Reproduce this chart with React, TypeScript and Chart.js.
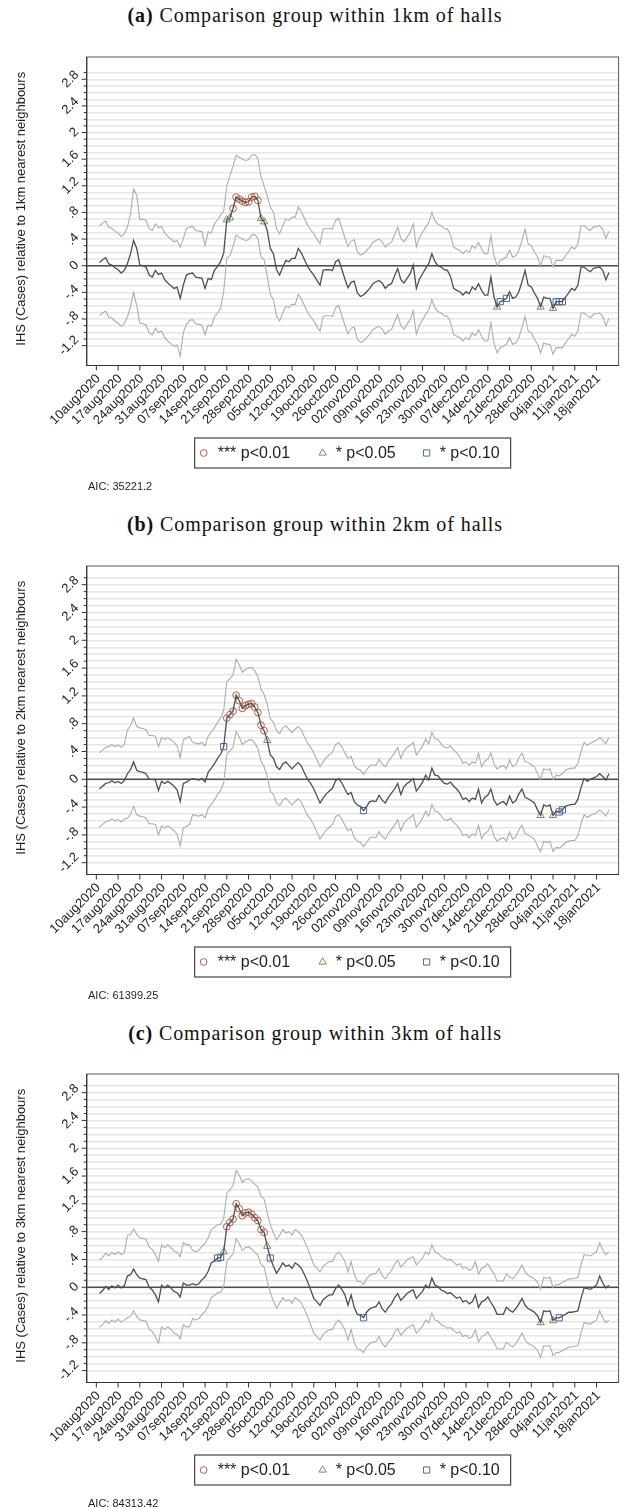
import React, { useEffect, useRef } from "react";
import { Chart, registerables } from "chart.js";

Chart.register(...registerables);

// Daily series start on 11aug2020; x values are days counted from 10aug2020.
const FIRST_DAY = 1;

const tickDays = [0, 7, 14, 21, 28, 35, 42, 49, 56, 63, 70, 77, 84, 91, 98, 105, 112, 119, 126, 133, 140, 147, 154, 161];
const tickLabels = [
  "10aug2020", "17aug2020", "24aug2020", "31aug2020", "07sep2020", "14sep2020", "21sep2020", "28sep2020",
  "05oct2020", "12oct2020", "19oct2020", "26oct2020", "02nov2020", "09nov2020", "16nov2020", "23nov2020",
  "30nov2020", "07dec2020", "14dec2020", "21dec2020", "28dec2020", "04jan2021", "11jan2021", "18jan2021",
];

const yLabelValues = [-1.2, -0.8, -0.4, 0, 0.4, 0.8, 1.2, 1.6, 2, 2.4, 2.8];
const yLabelTexts = ["-1.2", "-.8", "-.4", "0", ".4", ".8", "1.2", "1.6", "2", "2.4", "2.8"];

const legendLabels = ["*** p<0.01", "* p<0.05", "* p<0.10"];

// ---------- (a) within 1km ----------
const est1km = [
  0.05, 0.09, 0.12, 0.03, 0.01, -0.03, -0.06, -0.11, -0.07, 0.03,
  0.18, 0.38, 0.26, 0.01, 0.0, -0.02, -0.14, -0.17, -0.07, -0.13,
  -0.11, -0.21, -0.26, -0.3, -0.34, -0.32, -0.49, -0.29, -0.14, -0.12,
  -0.11, -0.17, -0.18, -0.19, -0.34, -0.19, -0.21, -0.07, -0.01, 0.06,
  0.19, 0.69, 0.72, 0.86, 1.03, 1.0, 0.97, 0.95, 0.96, 1.03,
  1.04, 0.98, 0.71, 0.66, 0.53, 0.26, 0.18, -0.06, -0.14, -0.02,
  0.08, 0.06, 0.11, 0.11, 0.26, 0.19, 0.09, -0.01, -0.08, -0.14,
  -0.22, -0.29, -0.07, -0.06, -0.06, -0.07, 0.06, 0.09, -0.05, -0.2,
  -0.33, -0.25, -0.23, -0.41, -0.46, -0.44, -0.39, -0.34, -0.27, -0.24,
  -0.22, -0.26, -0.34, -0.29, -0.27, -0.15, -0.04, -0.21, -0.26, -0.19,
  -0.12, 0.01, -0.34, -0.2, -0.12, -0.04, 0.03, 0.18, 0.06, 0.0,
  -0.02, -0.06, -0.07, -0.16, -0.34, -0.37, -0.39, -0.44, -0.39, -0.42,
  -0.32, -0.36, -0.27, -0.37, -0.44, -0.44, -0.17, -0.47, -0.62, -0.54,
  -0.52, -0.49, -0.39, -0.49, -0.47, -0.39, -0.24, -0.07, -0.29, -0.32,
  -0.41, -0.49, -0.62, -0.47, -0.49, -0.49, -0.64, -0.54, -0.54, -0.54,
  -0.47, -0.41, -0.34, -0.37, -0.29, -0.02, -0.02, -0.06, -0.09, -0.04,
  -0.03, -0.02, -0.07, -0.21, -0.1,
];
const upper1km = [
  0.6, 0.64, 0.67, 0.58, 0.56, 0.52, 0.49, 0.44, 0.48, 0.58,
  0.78, 1.15, 1.06, 0.69, 0.7, 0.68, 0.56, 0.53, 0.63, 0.57,
  0.59, 0.49, 0.44, 0.4, 0.36, 0.38, 0.28, 0.41, 0.56, 0.58,
  0.59, 0.53, 0.52, 0.51, 0.3, 0.51, 0.49, 0.63, 0.69, 0.76,
  0.82, 1.2, 1.35, 1.49, 1.66, 1.63, 1.6, 1.58, 1.59, 1.66,
  1.67, 1.61, 1.34, 1.2, 1.05, 0.88, 0.8, 0.56, 0.48, 0.6,
  0.7, 0.68, 0.73, 0.73, 0.88, 0.81, 0.71, 0.61, 0.54, 0.48,
  0.4, 0.33, 0.55, 0.56, 0.56, 0.55, 0.68, 0.71, 0.57, 0.42,
  0.29, 0.37, 0.39, 0.21, 0.16, 0.18, 0.23, 0.28, 0.35, 0.38,
  0.4, 0.36, 0.28, 0.33, 0.35, 0.47, 0.58, 0.41, 0.36, 0.43,
  0.5, 0.63, 0.28, 0.42, 0.5, 0.58, 0.65, 0.8, 0.68, 0.62,
  0.6, 0.56, 0.55, 0.46, 0.28, 0.25, 0.23, 0.18, 0.23, 0.2,
  0.3, 0.26, 0.35, 0.25, 0.18, 0.18, 0.45, 0.15, 0.0, 0.08,
  0.1, 0.13, 0.23, 0.13, 0.15, 0.23, 0.38, 0.55, 0.33, 0.3,
  0.21, 0.13, 0.0, 0.15, 0.13, 0.13, -0.02, 0.08, 0.08, 0.08,
  0.15, 0.21, 0.28, 0.25, 0.33, 0.6, 0.6, 0.56, 0.53, 0.58,
  0.59, 0.6, 0.55, 0.41, 0.52,
];
const lower1km = [
  -0.75, -0.71, -0.68, -0.77, -0.79, -0.83, -0.86, -0.91, -0.87, -0.77,
  -0.62, -0.4, -0.6, -0.86, -0.87, -0.89, -1.01, -1.04, -0.94, -1.0,
  -0.98, -1.08, -1.13, -1.17, -1.21, -1.19, -1.36, -1.0, -0.88, -0.82,
  -0.81, -0.87, -0.88, -0.89, -1.04, -0.89, -0.91, -0.77, -0.71, -0.64,
  -0.38, 0.12, 0.15, 0.29, 0.46, 0.43, 0.4, 0.38, 0.39, 0.46,
  0.47, 0.41, 0.14, 0.09, -0.16, -0.43, -0.51, -0.75, -0.83, -0.71,
  -0.61, -0.63, -0.58, -0.58, -0.43, -0.5, -0.6, -0.7, -0.77, -0.83,
  -0.91, -0.98, -0.76, -0.75, -0.75, -0.76, -0.63, -0.6, -0.74, -0.89,
  -1.02, -0.94, -0.92, -1.1, -1.15, -1.13, -1.08, -1.03, -0.96, -0.93,
  -0.91, -0.95, -1.03, -0.98, -0.96, -0.84, -0.73, -0.9, -0.95, -0.88,
  -0.81, -0.68, -1.03, -0.89, -0.81, -0.73, -0.66, -0.51, -0.63, -0.69,
  -0.71, -0.75, -0.76, -0.85, -1.03, -1.06, -1.08, -1.13, -1.08, -1.11,
  -1.01, -1.05, -0.96, -1.06, -1.13, -1.13, -0.86, -1.16, -1.31, -1.23,
  -1.21, -1.18, -1.08, -1.18, -1.16, -1.08, -0.93, -0.76, -0.98, -1.01,
  -1.1, -1.18, -1.31, -1.16, -1.18, -1.18, -1.33, -1.23, -1.23, -1.23,
  -1.16, -1.1, -1.03, -1.06, -0.98, -0.71, -0.71, -0.75, -0.78, -0.73,
  -0.72, -0.71, -0.76, -0.9, -0.79,
];
const sig01Days1km = [44, 45, 46, 47, 48, 49, 50, 51, 52];
const sig05Days1km = [42, 43, 53, 54, 129, 143, 147];
const sig10Days1km = [130, 132, 148, 149, 150];

// ---------- (b) within 2km ----------
const est2km = [
  -0.14, -0.1, -0.06, -0.05, -0.02, -0.05, -0.03, -0.06, -0.02, 0.08,
  0.14, 0.25, 0.13, 0.11, 0.1, 0.08, 0.0, 0.0, -0.01, -0.16,
  -0.03, -0.06, -0.03, -0.06, -0.1, -0.15, -0.32, -0.06, -0.04, -0.01,
  0.01, 0.0, -0.01, 0.01, -0.04, 0.1, 0.16, 0.22, 0.3, 0.36,
  0.47, 0.88, 0.93, 0.98, 1.21, 1.13, 1.02, 1.06, 1.08, 1.09,
  1.04, 0.96, 0.78, 0.7, 0.56, 0.35, 0.3, 0.18, 0.14, 0.22,
  0.25, 0.2, 0.15, 0.2, 0.24, 0.19, 0.09, 0.0, -0.06, -0.14,
  -0.24, -0.34, -0.27, -0.21, -0.17, -0.13, -0.02, 0.01, -0.05, -0.14,
  -0.22, -0.19, -0.32, -0.37, -0.39, -0.45, -0.39, -0.32, -0.31, -0.32,
  -0.23, -0.3, -0.34, -0.26, -0.2, -0.14, -0.06, -0.22, -0.11, -0.06,
  -0.03, 0.01, -0.17, -0.11, -0.04, 0.06, -0.01, 0.16, 0.06, 0.05,
  -0.01, -0.06, -0.07, -0.04, -0.1, -0.14, -0.2, -0.29, -0.27, -0.32,
  -0.27, -0.29, -0.14, -0.34, -0.26, -0.23, -0.14, -0.3, -0.37, -0.34,
  -0.32, -0.37, -0.24, -0.34, -0.31, -0.21, -0.14, -0.26, -0.28, -0.31,
  -0.34, -0.44, -0.52, -0.37, -0.39, -0.37, -0.52, -0.46, -0.47, -0.44,
  -0.39, -0.37, -0.36, -0.36, -0.29, -0.12, 0.01, -0.03, 0.0, 0.02,
  0.04, 0.08, 0.04, -0.01, 0.08,
];
const upper2km = [
  0.38, 0.42, 0.46, 0.47, 0.5, 0.47, 0.49, 0.46, 0.5, 0.71,
  0.77, 0.88, 0.76, 0.74, 0.73, 0.71, 0.63, 0.63, 0.62, 0.47,
  0.6, 0.57, 0.6, 0.57, 0.53, 0.48, 0.31, 0.57, 0.59, 0.62,
  0.53, 0.52, 0.51, 0.53, 0.48, 0.62, 0.68, 0.74, 0.82, 0.88,
  0.99, 1.4, 1.45, 1.5, 1.73, 1.65, 1.54, 1.58, 1.6, 1.61,
  1.56, 1.48, 1.3, 1.22, 1.08, 0.87, 0.82, 0.7, 0.66, 0.74,
  0.77, 0.72, 0.67, 0.72, 0.76, 0.71, 0.61, 0.52, 0.46, 0.38,
  0.28, 0.18, 0.25, 0.31, 0.35, 0.39, 0.5, 0.53, 0.47, 0.38,
  0.3, 0.33, 0.2, 0.15, 0.13, 0.07, 0.13, 0.2, 0.21, 0.2,
  0.29, 0.22, 0.18, 0.26, 0.32, 0.38, 0.46, 0.3, 0.41, 0.46,
  0.49, 0.53, 0.35, 0.41, 0.48, 0.58, 0.51, 0.68, 0.58, 0.57,
  0.51, 0.46, 0.45, 0.48, 0.42, 0.38, 0.32, 0.23, 0.25, 0.2,
  0.25, 0.23, 0.38, 0.18, 0.26, 0.29, 0.38, 0.22, 0.15, 0.18,
  0.2, 0.15, 0.28, 0.18, 0.21, 0.31, 0.38, 0.26, 0.24, 0.21,
  0.18, 0.08, 0.0, 0.15, 0.13, 0.15, 0.0, 0.06, 0.05, 0.08,
  0.13, 0.15, 0.16, 0.16, 0.23, 0.4, 0.53, 0.49, 0.52, 0.54,
  0.56, 0.6, 0.56, 0.51, 0.6,
];
const lower2km = [
  -0.69, -0.65, -0.61, -0.6, -0.57, -0.6, -0.58, -0.61, -0.57, -0.56,
  -0.5, -0.39, -0.51, -0.53, -0.54, -0.56, -0.64, -0.64, -0.65, -0.8,
  -0.67, -0.7, -0.67, -0.7, -0.74, -0.79, -0.96, -0.7, -0.68, -0.65,
  -0.51, -0.52, -0.53, -0.51, -0.56, -0.42, -0.36, -0.3, -0.22, -0.16,
  -0.05, 0.36, 0.41, 0.46, 0.69, 0.61, 0.5, 0.54, 0.56, 0.57,
  0.52, 0.44, 0.26, 0.18, 0.04, -0.17, -0.22, -0.34, -0.38, -0.3,
  -0.27, -0.32, -0.37, -0.32, -0.28, -0.33, -0.43, -0.52, -0.58, -0.66,
  -0.76, -0.86, -0.79, -0.73, -0.69, -0.65, -0.54, -0.51, -0.57, -0.66,
  -0.74, -0.71, -0.84, -0.89, -0.91, -0.97, -0.91, -0.84, -0.83, -0.84,
  -0.75, -0.82, -0.86, -0.78, -0.72, -0.66, -0.58, -0.74, -0.63, -0.58,
  -0.55, -0.51, -0.69, -0.63, -0.56, -0.46, -0.53, -0.36, -0.46, -0.47,
  -0.53, -0.58, -0.59, -0.56, -0.62, -0.66, -0.72, -0.81, -0.79, -0.84,
  -0.79, -0.81, -0.66, -0.86, -0.78, -0.75, -0.66, -0.82, -0.89, -0.86,
  -0.84, -0.89, -0.76, -0.86, -0.83, -0.73, -0.66, -0.78, -0.8, -0.83,
  -0.86, -0.96, -1.04, -0.89, -0.91, -0.89, -1.04, -0.98, -0.99, -0.96,
  -0.91, -0.89, -0.88, -0.88, -0.81, -0.64, -0.51, -0.55, -0.52, -0.5,
  -0.48, -0.44, -0.48, -0.53, -0.44,
];
const sig01Days2km = [42, 43, 44, 45, 46, 47, 48, 49, 50, 51, 52, 53, 54];
const sig05Days2km = [55, 143, 147];
const sig10Days2km = [41, 86, 149, 150];

// ---------- (c) within 3km ----------
const est3km = [
  -0.09, -0.05, 0.01, -0.03, 0.02, -0.01, 0.03, -0.01, 0.02, 0.16,
  0.18, 0.26, 0.18, 0.13, 0.12, 0.11, 0.0, -0.04, -0.11, -0.21,
  0.03, -0.01, 0.03, -0.01, -0.06, -0.08, -0.14, 0.06, 0.03, 0.03,
  0.05, 0.03, 0.05, 0.11, 0.15, 0.23, 0.35, 0.38, 0.42, 0.43,
  0.51, 0.87, 0.93, 0.98, 1.2, 1.13, 1.03, 1.07, 1.08, 1.05,
  1.0, 0.96, 0.83, 0.79, 0.59, 0.42, 0.3, 0.2, 0.27, 0.35,
  0.3, 0.32, 0.27, 0.35, 0.32, 0.27, 0.18, 0.08, -0.04, -0.16,
  -0.21, -0.26, -0.18, -0.14, -0.11, -0.11, -0.02, 0.03, -0.03, -0.11,
  -0.26, -0.11, -0.29, -0.39, -0.4, -0.44, -0.36, -0.31, -0.29, -0.28,
  -0.21, -0.31, -0.36, -0.29, -0.24, -0.15, -0.09, -0.19, -0.14, -0.09,
  -0.06, -0.04, -0.16, -0.11, -0.06, 0.03, -0.01, 0.13, 0.03, 0.01,
  -0.04, -0.06, -0.09, -0.08, -0.12, -0.16, -0.14, -0.21, -0.19, -0.24,
  -0.21, -0.11, -0.29, -0.21, -0.19, -0.14, -0.22, -0.29, -0.39, -0.39,
  -0.39, -0.29, -0.33, -0.36, -0.31, -0.24, -0.16, -0.26, -0.31, -0.33,
  -0.36, -0.41, -0.51, -0.34, -0.35, -0.34, -0.48, -0.44, -0.44, -0.41,
  -0.39, -0.36, -0.36, -0.35, -0.34, -0.16, -0.01, -0.02, -0.03, 0.0,
  0.03, 0.16, 0.06, -0.01, 0.03,
];
const upper3km = [
  0.39, 0.43, 0.49, 0.45, 0.5, 0.47, 0.51, 0.47, 0.5, 0.74,
  0.76, 0.84, 0.76, 0.71, 0.7, 0.69, 0.58, 0.54, 0.47, 0.37,
  0.61, 0.57, 0.61, 0.57, 0.52, 0.5, 0.44, 0.64, 0.61, 0.61,
  0.53, 0.51, 0.53, 0.59, 0.63, 0.71, 0.83, 0.86, 0.9, 0.91,
  0.99, 1.35, 1.41, 1.46, 1.68, 1.61, 1.51, 1.55, 1.56, 1.53,
  1.48, 1.44, 1.31, 1.27, 1.07, 0.9, 0.78, 0.68, 0.75, 0.83,
  0.78, 0.8, 0.75, 0.83, 0.8, 0.75, 0.66, 0.56, 0.44, 0.32,
  0.27, 0.22, 0.3, 0.34, 0.37, 0.37, 0.46, 0.51, 0.45, 0.37,
  0.22, 0.37, 0.19, 0.09, 0.08, 0.04, 0.12, 0.17, 0.19, 0.2,
  0.27, 0.17, 0.12, 0.19, 0.24, 0.33, 0.39, 0.29, 0.34, 0.39,
  0.42, 0.44, 0.32, 0.37, 0.42, 0.51, 0.47, 0.61, 0.51, 0.49,
  0.44, 0.42, 0.39, 0.4, 0.36, 0.32, 0.34, 0.27, 0.29, 0.24,
  0.27, 0.37, 0.19, 0.27, 0.29, 0.34, 0.26, 0.19, 0.09, 0.09,
  0.09, 0.19, 0.15, 0.12, 0.17, 0.24, 0.32, 0.22, 0.17, 0.15,
  0.12, 0.07, -0.03, 0.14, 0.13, 0.14, 0.0, 0.04, 0.04, 0.07,
  0.09, 0.12, 0.12, 0.13, 0.14, 0.32, 0.47, 0.46, 0.45, 0.48,
  0.51, 0.64, 0.54, 0.47, 0.51,
];
const lower3km = [
  -0.58, -0.54, -0.48, -0.52, -0.47, -0.5, -0.46, -0.5, -0.47, -0.44,
  -0.42, -0.34, -0.42, -0.47, -0.48, -0.49, -0.6, -0.64, -0.71, -0.81,
  -0.57, -0.61, -0.57, -0.61, -0.66, -0.68, -0.74, -0.54, -0.57, -0.57,
  -0.45, -0.47, -0.45, -0.39, -0.35, -0.27, -0.15, -0.12, -0.08, -0.07,
  0.01, 0.37, 0.43, 0.48, 0.7, 0.63, 0.53, 0.57, 0.58, 0.55,
  0.5, 0.46, 0.33, 0.29, 0.09, -0.08, -0.2, -0.3, -0.23, -0.15,
  -0.2, -0.18, -0.23, -0.15, -0.18, -0.23, -0.32, -0.42, -0.54, -0.66,
  -0.71, -0.76, -0.68, -0.64, -0.61, -0.61, -0.52, -0.47, -0.53, -0.61,
  -0.76, -0.61, -0.79, -0.89, -0.9, -0.94, -0.86, -0.81, -0.79, -0.78,
  -0.71, -0.81, -0.86, -0.79, -0.74, -0.65, -0.59, -0.69, -0.64, -0.59,
  -0.56, -0.54, -0.66, -0.61, -0.56, -0.47, -0.51, -0.37, -0.47, -0.49,
  -0.54, -0.56, -0.59, -0.58, -0.62, -0.66, -0.64, -0.71, -0.69, -0.74,
  -0.71, -0.61, -0.79, -0.71, -0.69, -0.64, -0.72, -0.79, -0.89, -0.89,
  -0.89, -0.79, -0.83, -0.86, -0.81, -0.74, -0.66, -0.76, -0.81, -0.83,
  -0.86, -0.91, -1.01, -0.84, -0.85, -0.84, -0.98, -0.94, -0.94, -0.91,
  -0.89, -0.86, -0.86, -0.85, -0.84, -0.66, -0.51, -0.52, -0.53, -0.5,
  -0.47, -0.34, -0.44, -0.51, -0.47,
];
const sig01Days3km = [42, 43, 44, 45, 46, 47, 48, 49, 50, 51, 52, 53, 54];
const sig05Days3km = [41, 55, 143, 147];
const sig10Days3km = [39, 40, 56, 86, 149];

// ---------- styling ----------
const COLOR_EST = "#4f4f4f";
const COLOR_CI = "#adadad";
const COLOR_GRID = "#e6e6e6";
const COLOR_ZERO = "#4d4d4d";
const COLOR_TEXT = "#1e1e1e";
const COLOR_P01 = "#b0604c";
const COLOR_P05 = "#7c8c60";
const COLOR_P10 = "#4a6a9a";
const SANS = '"Liberation Sans", Arial, Helvetica, sans-serif';

const PAGE_W = 624;
const CANVAS_H = 450;
const PANEL_STEP = 508.6;
const CHART_TOP = 27;
const CHART_BOTTOM = 335.5;
const Y_AXIS_W = 86.7;
const CHART_RIGHT = 619.3;
const X_AXIS_H = 60;
const X_MIN = -3.1;
const X_MAX = 168.1;
const TICK_FONT = 13;

type PanelCfg = {
  tag: string;
  title: string;
  yTitle: string;
  aic: string;
  est: number[];
  upper: number[];
  lower: number[];
  sig01: number[];
  sig05: number[];
  sig10: number[];
  yMin: number;
  yMax: number;
};

const panels: PanelCfg[] = [
  {
    tag: "(a)", title: "Comparison group within 1km of halls",
    yTitle: "IHS (Cases) relative to 1km nearest neighbours", aic: "AIC: 35221.2",
    est: est1km, upper: upper1km, lower: lower1km,
    sig01: sig01Days1km, sig05: sig05Days1km, sig10: sig10Days1km,
    yMin: -1.498, yMax: 3.134,
  },
  {
    tag: "(b)", title: "Comparison group within 2km of halls",
    yTitle: "IHS (Cases) relative to 2km nearest neighbours", aic: "AIC: 61399.25",
    est: est2km, upper: upper2km, lower: lower2km,
    sig01: sig01Days2km, sig05: sig05Days2km, sig10: sig10Days2km,
    yMin: -1.37, yMax: 3.069,
  },
  {
    tag: "(c)", title: "Comparison group within 3km of halls",
    yTitle: "IHS (Cases) relative to 3km nearest neighbours", aic: "AIC: 84313.42",
    est: est3km, upper: upper3km, lower: lower3km,
    sig01: sig01Days3km, sig05: sig05Days3km, sig10: sig10Days3km,
    yMin: -1.371, yMax: 3.068,
  },
];

const series = (arr: number[]) => arr.map((v, i) => ({ x: i + FIRST_DAY, y: v }));
const marks = (days: number[], est: number[]) => days.map((d) => ({ x: d, y: est[d - FIRST_DAY] }));

// grid every 0.1 on the y axis, labels every 0.4
const gridValues: number[] = [];
for (let k = -12; k <= 29; k++) gridValues.push(k / 10);
const isLabelled = (v: number) => yLabelValues.some((l) => Math.abs(l - v) < 1e-6);

function drawSymbol(ctx: CanvasRenderingContext2D, kind: string, x: number, y: number, color: string) {
  ctx.save();
  ctx.strokeStyle = color;
  ctx.lineWidth = 1;
  ctx.beginPath();
  if (kind === "circle") {
    ctx.arc(x, y, 3.4, 0, Math.PI * 2);
  } else if (kind === "triangle") {
    const r = 4.2;
    ctx.moveTo(x, y - r);
    ctx.lineTo(x + r * 0.866, y + r * 0.5);
    ctx.lineTo(x - r * 0.866, y + r * 0.5);
    ctx.closePath();
  } else {
    ctx.rect(x - 3.1, y - 3.1, 6.2, 6.2);
  }
  ctx.stroke();
  ctx.restore();
}

function decorPlugin(cfg: PanelCfg) {
  return {
    id: "panelDecor",
    beforeDatasetsDraw(chart: any) {
      const { ctx, chartArea: a, scales } = chart;
      const y0 = scales.y.getPixelForValue(0);
      ctx.save();
      ctx.strokeStyle = COLOR_ZERO;
      ctx.lineWidth = 1.4;
      ctx.beginPath();
      ctx.moveTo(a.left, y0);
      ctx.lineTo(a.right, y0);
      ctx.stroke();
      ctx.restore();
    },
    afterDraw(chart: any) {
      const { ctx, chartArea: a, scales } = chart;
      const xs = scales.x;
      const ys = scales.y;
      ctx.save();

      // plot region frame
      ctx.strokeStyle = "#5a5a5a";
      ctx.lineWidth = 1;
      ctx.strokeRect(a.left, a.top, a.right - a.left, a.bottom - a.top);
      ctx.strokeStyle = "#333";
      ctx.lineWidth = 1.2;
      ctx.beginPath();
      ctx.moveTo(a.left, a.top);
      ctx.lineTo(a.left, a.bottom);
      ctx.lineTo(a.right, a.bottom);
      ctx.stroke();

      // y ticks and rotated labels
      ctx.lineWidth = 1;
      ctx.strokeStyle = "#333";
      for (const v of gridValues) {
        if (v < cfg.yMin || v > cfg.yMax) continue;
        const py = ys.getPixelForValue(v);
        const len = isLabelled(v) ? 5 : 3;
        ctx.beginPath();
        ctx.moveTo(a.left - len, py);
        ctx.lineTo(a.left, py);
        ctx.stroke();
      }
      ctx.font = `${TICK_FONT}px ${SANS}`;
      ctx.fillStyle = COLOR_TEXT;
      yLabelValues.forEach((v, i) => {
        const t = yLabelTexts[i];
        const w = ctx.measureText(t).width;
        const py = ys.getPixelForValue(v);
        const cx = a.left - 6.5 - 0.707 * (w / 2 + 4.6);
        ctx.save();
        ctx.translate(cx, py);
        ctx.rotate(-Math.PI / 4);
        ctx.textAlign = "center";
        ctx.textBaseline = "middle";
        ctx.fillText(t, 0, 0);
        ctx.restore();
      });

      // x ticks and rotated date labels
      tickDays.forEach((d, i) => {
        const px = xs.getPixelForValue(d);
        ctx.beginPath();
        ctx.moveTo(px, a.bottom);
        ctx.lineTo(px, a.bottom + 5);
        ctx.stroke();
        ctx.save();
        ctx.translate(px + 2, a.bottom + 11);
        ctx.rotate(-Math.PI / 4);
        ctx.textAlign = "right";
        ctx.textBaseline = "middle";
        ctx.fillText(tickLabels[i], 0, 0);
        ctx.restore();
      });

      // y axis title
      ctx.save();
      ctx.font = `13px ${SANS}`;
      ctx.translate(21, (a.top + a.bottom) / 2 - 2.5);
      ctx.rotate(-Math.PI / 2);
      ctx.textAlign = "center";
      ctx.textBaseline = "middle";
      ctx.fillText(cfg.yTitle, 0, 0);
      ctx.restore();

      // legend box
      const lw = 316;
      const lh = 30;
      const lx = (a.left + a.right) / 2 - lw / 2;
      const ly = a.bottom + 72.5;
      ctx.strokeStyle = "#444";
      ctx.lineWidth = 1.2;
      ctx.strokeRect(lx, ly, lw, lh);
      const cy = ly + lh / 2;
      const items = [
        { kind: "circle", color: COLOR_P01, sx: 9, tx: 23 },
        { kind: "triangle", color: COLOR_P05, sx: 128, tx: 141 },
        { kind: "rect", color: COLOR_P10, sx: 232, tx: 245 },
      ];
      ctx.font = `16px ${SANS}`;
      ctx.fillStyle = COLOR_TEXT;
      ctx.textAlign = "left";
      ctx.textBaseline = "middle";
      items.forEach((it, i) => {
        drawSymbol(ctx, it.kind, lx + it.sx, cy, it.color);
        ctx.fillText(legendLabels[i], lx + it.tx, cy + 1);
      });

      ctx.restore();
    },
  };
}

function Panel({ cfg, top }: { cfg: PanelCfg; top: number }) {
  const ref = useRef<HTMLCanvasElement | null>(null);

  useEffect(() => {
    if (!ref.current) return;
    const markerSet = (days: number[], style: string, radius: number, color: string) => ({
      data: marks(days, cfg.est),
      showLine: false,
      pointStyle: style,
      pointRadius: radius,
      pointBorderColor: color,
      pointBackgroundColor: "rgba(0,0,0,0)",
      pointBorderWidth: 1,
      borderColor: color,
    });
    const chart = new Chart(ref.current, {
      type: "line",
      data: {
        datasets: [
          { data: series(cfg.upper), borderColor: COLOR_CI, borderWidth: 1.1, pointRadius: 0, tension: 0 },
          { data: series(cfg.lower), borderColor: COLOR_CI, borderWidth: 1.1, pointRadius: 0, tension: 0 },
          { data: series(cfg.est), borderColor: COLOR_EST, borderWidth: 1.3, pointRadius: 0, tension: 0 },
          markerSet(cfg.sig01, "circle", 3.4, COLOR_P01),
          markerSet(cfg.sig05, "triangle", 4.2, COLOR_P05),
          markerSet(cfg.sig10, "rect", 4.4, COLOR_P10),
        ] as any,
      },
      options: {
        animation: false,
        responsive: false,
        maintainAspectRatio: false,
        events: [],
        layout: {
          padding: {
            top: CHART_TOP,
            right: PAGE_W - CHART_RIGHT,
            bottom: CANVAS_H - CHART_BOTTOM - X_AXIS_H,
            left: 0,
          },
        },
        plugins: { legend: { display: false }, tooltip: { enabled: false } },
        scales: {
          x: {
            type: "linear",
            min: X_MIN,
            max: X_MAX,
            grid: { display: false },
            border: { display: false },
            ticks: { display: false },
            afterBuildTicks: (s: any) => {
              s.ticks = tickDays.map((v) => ({ value: v }));
            },
            afterFit: (s: any) => {
              s.height = X_AXIS_H;
            },
          },
          y: {
            type: "linear",
            min: cfg.yMin,
            max: cfg.yMax,
            grid: { color: COLOR_GRID, lineWidth: 1.4, drawTicks: false },
            border: { display: false },
            ticks: { display: false },
            afterBuildTicks: (s: any) => {
              s.ticks = gridValues.filter((v) => v >= cfg.yMin && v <= cfg.yMax).map((v) => ({ value: v }));
            },
            afterFit: (s: any) => {
              s.width = Y_AXIS_W;
            },
          },
        },
      } as any,
      plugins: [decorPlugin(cfg)],
    });
    return () => chart.destroy();
  }, [cfg]);

  return (
    <>
      <div
        style={{
          position: "absolute",
          top: top - 24.7,
          left: 0,
          width: 630,
          textAlign: "center",
          fontFamily: '"Liberation Serif", "Times New Roman", serif',
          fontSize: 20,
          lineHeight: "20px",
          letterSpacing: "0.9px",
          color: "#111",
          whiteSpace: "nowrap",
        }}
      >
        <b>{cfg.tag}</b> {cfg.title}
      </div>
      <canvas
        ref={ref}
        width={PAGE_W}
        height={CANVAS_H}
        style={{ position: "absolute", top, left: 0, width: PAGE_W, height: CANVAS_H }}
      />
      <div
        style={{
          position: "absolute",
          top: top + 449,
          left: 88,
          fontFamily: SANS,
          fontSize: 11,
          lineHeight: "14px",
          color: COLOR_TEXT,
          whiteSpace: "nowrap",
        }}
      >
        {cfg.aic}
      </div>
    </>
  );
}

export default function App() {
  return (
    <div style={{ position: "absolute", left: 0, top: 0, width: PAGE_W, height: 1507, background: "#fff" }}>
      {panels.map((p, i) => (
        <Panel key={p.tag} cfg={p} top={30 + i * PANEL_STEP} />
      ))}
    </div>
  );
}
